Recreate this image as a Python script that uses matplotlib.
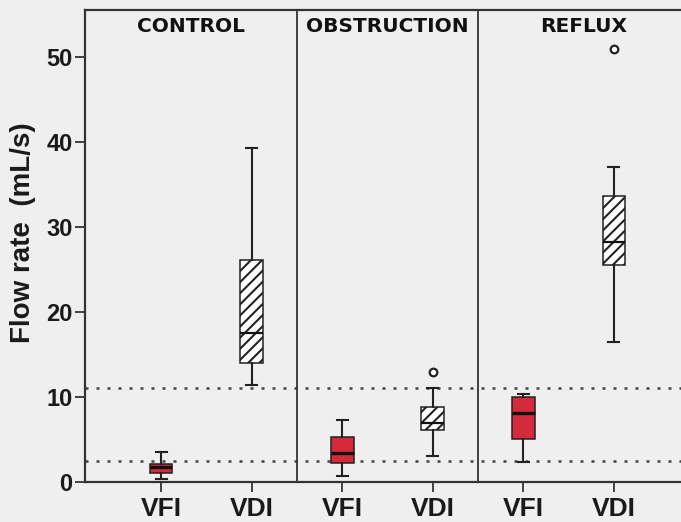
import numpy as np
import matplotlib
matplotlib.use("Agg")
import matplotlib.pyplot as plt

# Box statistics (mL/s)
groups = ["CONTROL", "OBSTRUCTION", "REFLUX"]
tick_labels = ["VFI", "VDI", "VFI", "VDI", "VFI", "VDI"]
whislo = [0.4, 11.4, 0.7, 3.1, 2.4, 16.5]
q1 = [1.0, 14.0, 2.2, 6.1, 5.0, 25.5]
med = [1.8, 17.5, 3.45, 6.9, 8.1, 28.2]
q3 = [2.1, 26.1, 5.3, 8.8, 10.0, 33.6]
whishi = [3.5, 39.3, 7.3, 11.1, 10.4, 37.0]
fliers = [[], [], [], [12.9], [], [50.9]]
ref_lines = [2.5, 11.0]

bg = "#efefef"
red = "#d42a3a"
dark = "#333333"

plt.rcParams["hatch.linewidth"] = 1.5
plt.rcParams["hatch.color"] = "#1a1a1a"
fig = plt.figure(figsize=(6.81, 5.22), dpi=100, facecolor=bg)
ax = fig.add_axes([85 / 681, 40 / 522, 605 / 681, 472 / 522], facecolor=bg)

stats = []
for i in range(len(tick_labels)):
    stats.append(dict(whislo=whislo[i], q1=q1[i], med=med[i], q3=q3[i],
                      whishi=whishi[i], fliers=fliers[i], label=tick_labels[i]))

pos = np.arange(len(tick_labels))
bp = ax.bxp(stats, positions=pos, widths=0.25, patch_artist=True,
            boxprops=dict(linewidth=1.1, edgecolor="#222222"),
            medianprops=dict(color="#111111", linewidth=1.6),
            whiskerprops=dict(color="#222222", linewidth=1.5),
            capprops=dict(color="#222222", linewidth=1.5),
            flierprops=dict(marker="o", markersize=5.5, markerfacecolor="white",
                            markeredgecolor="#222222", markeredgewidth=1.6),
            capwidths=0.12, zorder=3)
for i, box in enumerate(bp["boxes"]):
    if tick_labels[i] == "VFI":
        box.set_facecolor(red)
        bp["medians"][i].set_linewidth(2.4)
    else:
        box.set_facecolor("white")
        box.set_hatch("///")

for y in ref_lines:
    ax.axhline(y, color="#444444", linestyle=(0, (1.2, 3.2)), linewidth=1.8, zorder=1)

for x in [1.5, 3.5]:
    ax.axvline(x, color=dark, linewidth=1.3, zorder=2)

ax.set_xlim(-0.84, 5.84)
ax.set_ylim(0, 55.5)

# panel titles centred in each panel
edges = [ax.get_xlim()[0], 1.5, 3.5, ax.get_xlim()[1]]
for k, g in enumerate(groups):
    ax.text((edges[k] + edges[k + 1]) / 2, 53.6, g, ha="center", va="center",
            fontsize=14.5, fontweight="bold", family="DejaVu Sans", color="#111111")

ax.set_yticks([0, 10, 20, 30, 40, 50])
ax.set_xticks(pos)
ax.set_xticklabels(tick_labels)
for lab in ax.get_xticklabels() + ax.get_yticklabels():
    lab.set_fontfamily("Liberation Sans")
    lab.set_fontweight("bold")
    lab.set_color("#1a1a1a")
for lab in ax.get_xticklabels():
    lab.set_fontsize(19)
for lab in ax.get_yticklabels():
    lab.set_fontsize(17)
ax.tick_params(axis="both", length=7, width=1.3, color=dark, pad=2)
ax.tick_params(axis="x", pad=4)

for s in ["left", "bottom", "top"]:
    ax.spines[s].set_color(dark)
    ax.spines[s].set_linewidth(1.6)
ax.spines["right"].set_visible(False)

fig.text(23 / 681, 1 - 233 / 522, "Flow rate  (mL/s)", rotation=90, ha="center",
         va="center", fontsize=20, fontweight="bold", family="Liberation Sans",
         color="#1a1a1a")

fig.savefig("out.png", dpi=100, facecolor=bg)
